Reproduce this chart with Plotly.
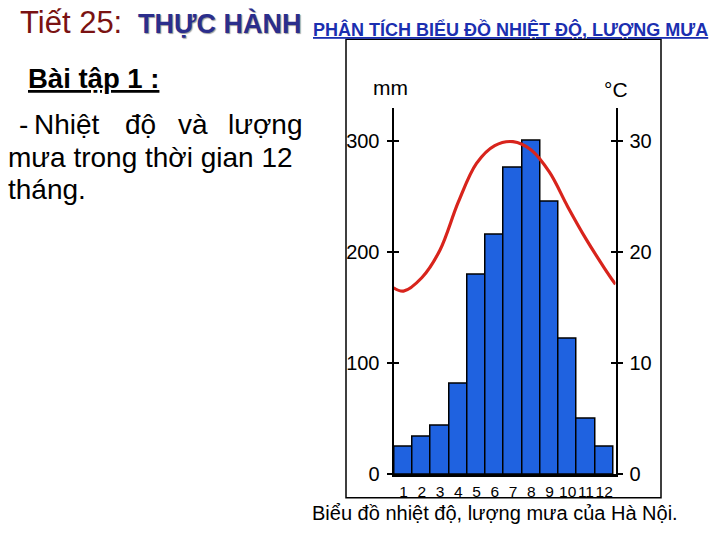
import plotly.graph_objects as go

# ---- data ----
months = [1, 2, 3, 4, 5, 6, 7, 8, 9, 10, 11, 12]
month_labels = ["1", "2", "3", "4", "5", "6", "7", "8", "9", "10", "11", "12"]
rain_mm = [25, 34, 44, 82, 180, 216, 276, 300, 245, 122, 50, 25]
temp_x = [0.45, 1, 2, 3, 4, 5, 6, 7, 8, 9, 10, 11, 12, 12.62]
temp_c = [16.8, 16.5, 17.7, 20.2, 24.5, 28.0, 29.6, 29.95, 29.2, 27.2, 24.1, 21.2, 18.6, 17.1]
rain_ticks = [0, 100, 200, 300]
temp_ticks = [0, 10, 20, 30]

W, H = 720, 540
def px(x):
    return x / W
def py(y):
    return 1 - y / H

SANS = "Liberation Sans, Arial, sans-serif"

fig = go.Figure()
fig.add_trace(go.Bar(
    x=months, y=rain_mm, width=1,
    marker=dict(color="#1f62e0", line=dict(color="black", width=1.5)),
    xaxis="x", yaxis="y", showlegend=False,
))
fig.add_trace(go.Scatter(
    x=temp_x, y=temp_c, mode="lines",
    line=dict(color="#d8241c", width=3.2, shape="spline", smoothing=1.0),
    xaxis="x", yaxis="y2", showlegend=False,
))
# empty helpers so the inside-tick overlay axes are drawn
fig.add_trace(go.Scatter(x=[None], y=[None], yaxis="y3", showlegend=False))
fig.add_trace(go.Scatter(x=[None], y=[None], yaxis="y4", showlegend=False))

xdom = [px(393.5), px(615.5)]
ydom = [py(484.3), py(110)]

fig.update_layout(
    width=W, height=H,
    margin=dict(l=0, r=0, t=0, b=0),
    paper_bgcolor="white", plot_bgcolor="rgba(0,0,0,0)",
    bargap=0,
    xaxis=dict(
        domain=xdom, range=[0.45, 12.62],
        tickvals=months, ticktext=month_labels, ticks="", tickangle=0,
        showline=True, linecolor="black", linewidth=2.5,
        showgrid=False, zeroline=False,
        tickfont=dict(family=SANS, size=15.5, color="black"),
        ticklabelstandoff=1,
    ),
    yaxis=dict(
        domain=ydom, range=[0, 330], anchor="x", side="left",
        tickvals=rain_ticks, ticks="outside", ticklen=5, tickwidth=2, tickcolor="black",
        showline=True, linecolor="black", linewidth=2,
        showgrid=False, zeroline=False,
        tickfont=dict(family=SANS, size=20, color="black"),
        ticklabelstandoff=3,
    ),
    yaxis2=dict(
        domain=ydom, range=[0, 33], anchor="x", side="right", overlaying="y",
        tickvals=temp_ticks, ticks="outside", ticklen=5, tickwidth=2, tickcolor="black",
        showline=True, linecolor="black", linewidth=2,
        showgrid=False, zeroline=False,
        tickfont=dict(family=SANS, size=20, color="black"),
        ticklabelstandoff=3,
    ),
    yaxis3=dict(
        domain=ydom, range=[0, 330], anchor="x", side="left", overlaying="y",
        tickvals=rain_ticks[1:], ticks="inside", ticklen=5, tickwidth=2, tickcolor="black",
        showticklabels=False, showline=False, showgrid=False, zeroline=False,
    ),
    yaxis4=dict(
        domain=ydom, range=[0, 33], anchor="x", side="right", overlaying="y",
        tickvals=temp_ticks[1:], ticks="inside", ticklen=5, tickwidth=2, tickcolor="black",
        showticklabels=False, showline=False, showgrid=False, zeroline=False,
    ),
)

# chart frame
fig.add_shape(type="rect", xref="paper", yref="paper",
              x0=px(346), x1=px(661), y0=py(508), y1=py(40),
              line=dict(color="black", width=1.5), fillcolor="rgba(0,0,0,0)", layer="below")

def note(text, x, y, size, color="black", family=SANS, xanchor="left", shadow=None):
    f = dict(family=family, size=size, color=color)
    if shadow:
        f["shadow"] = shadow
    fig.add_annotation(text=text, x=px(x), y=py(y), xref="paper", yref="paper",
                       xanchor=xanchor, yanchor="middle", showarrow=False, font=f)

# axis units
note("mm", 391, 89, 21, xanchor="center")
note("°C", 616, 91, 21, xanchor="center")

# slide title
note("Tiết 25:", 18, 23, 31, color="#7a1212")
note("<b>THỰC HÀNH</b>", 136, 24, 27, color="#2b2e8c", shadow="1px 1px 1px #9a9a9a")
note('<b><span style="text-decoration:underline">PHÂN TÍCH BIỂU ĐỒ NHIỆT ĐỘ, LƯỢNG MƯA</span></b>',
     311, 30, 18, color="#1b2fb0")

# left text block
note('<b><span style="text-decoration:underline">Bài tập 1 :</span></b>', 26, 80, 27.5)
for word, x in [("-", 17), ("Nhiệt", 32), ("độ", 123), ("và", 176), ("lượng", 226)]:
    note(word, x, 127, 28)
note("mưa trong thời gian 12", 6, 161, 28)
note("tháng.", 6, 193, 28)

# caption
note("Biểu đồ nhiệt độ, lượng mưa của Hà Nội.", 310, 524, 20)

# the page body has a default 8px margin; remove it so the figure sits at the corner
fig.write_html("out.html", config={"displayModeBar": False},
               post_script="document.body.style.margin='0';")
